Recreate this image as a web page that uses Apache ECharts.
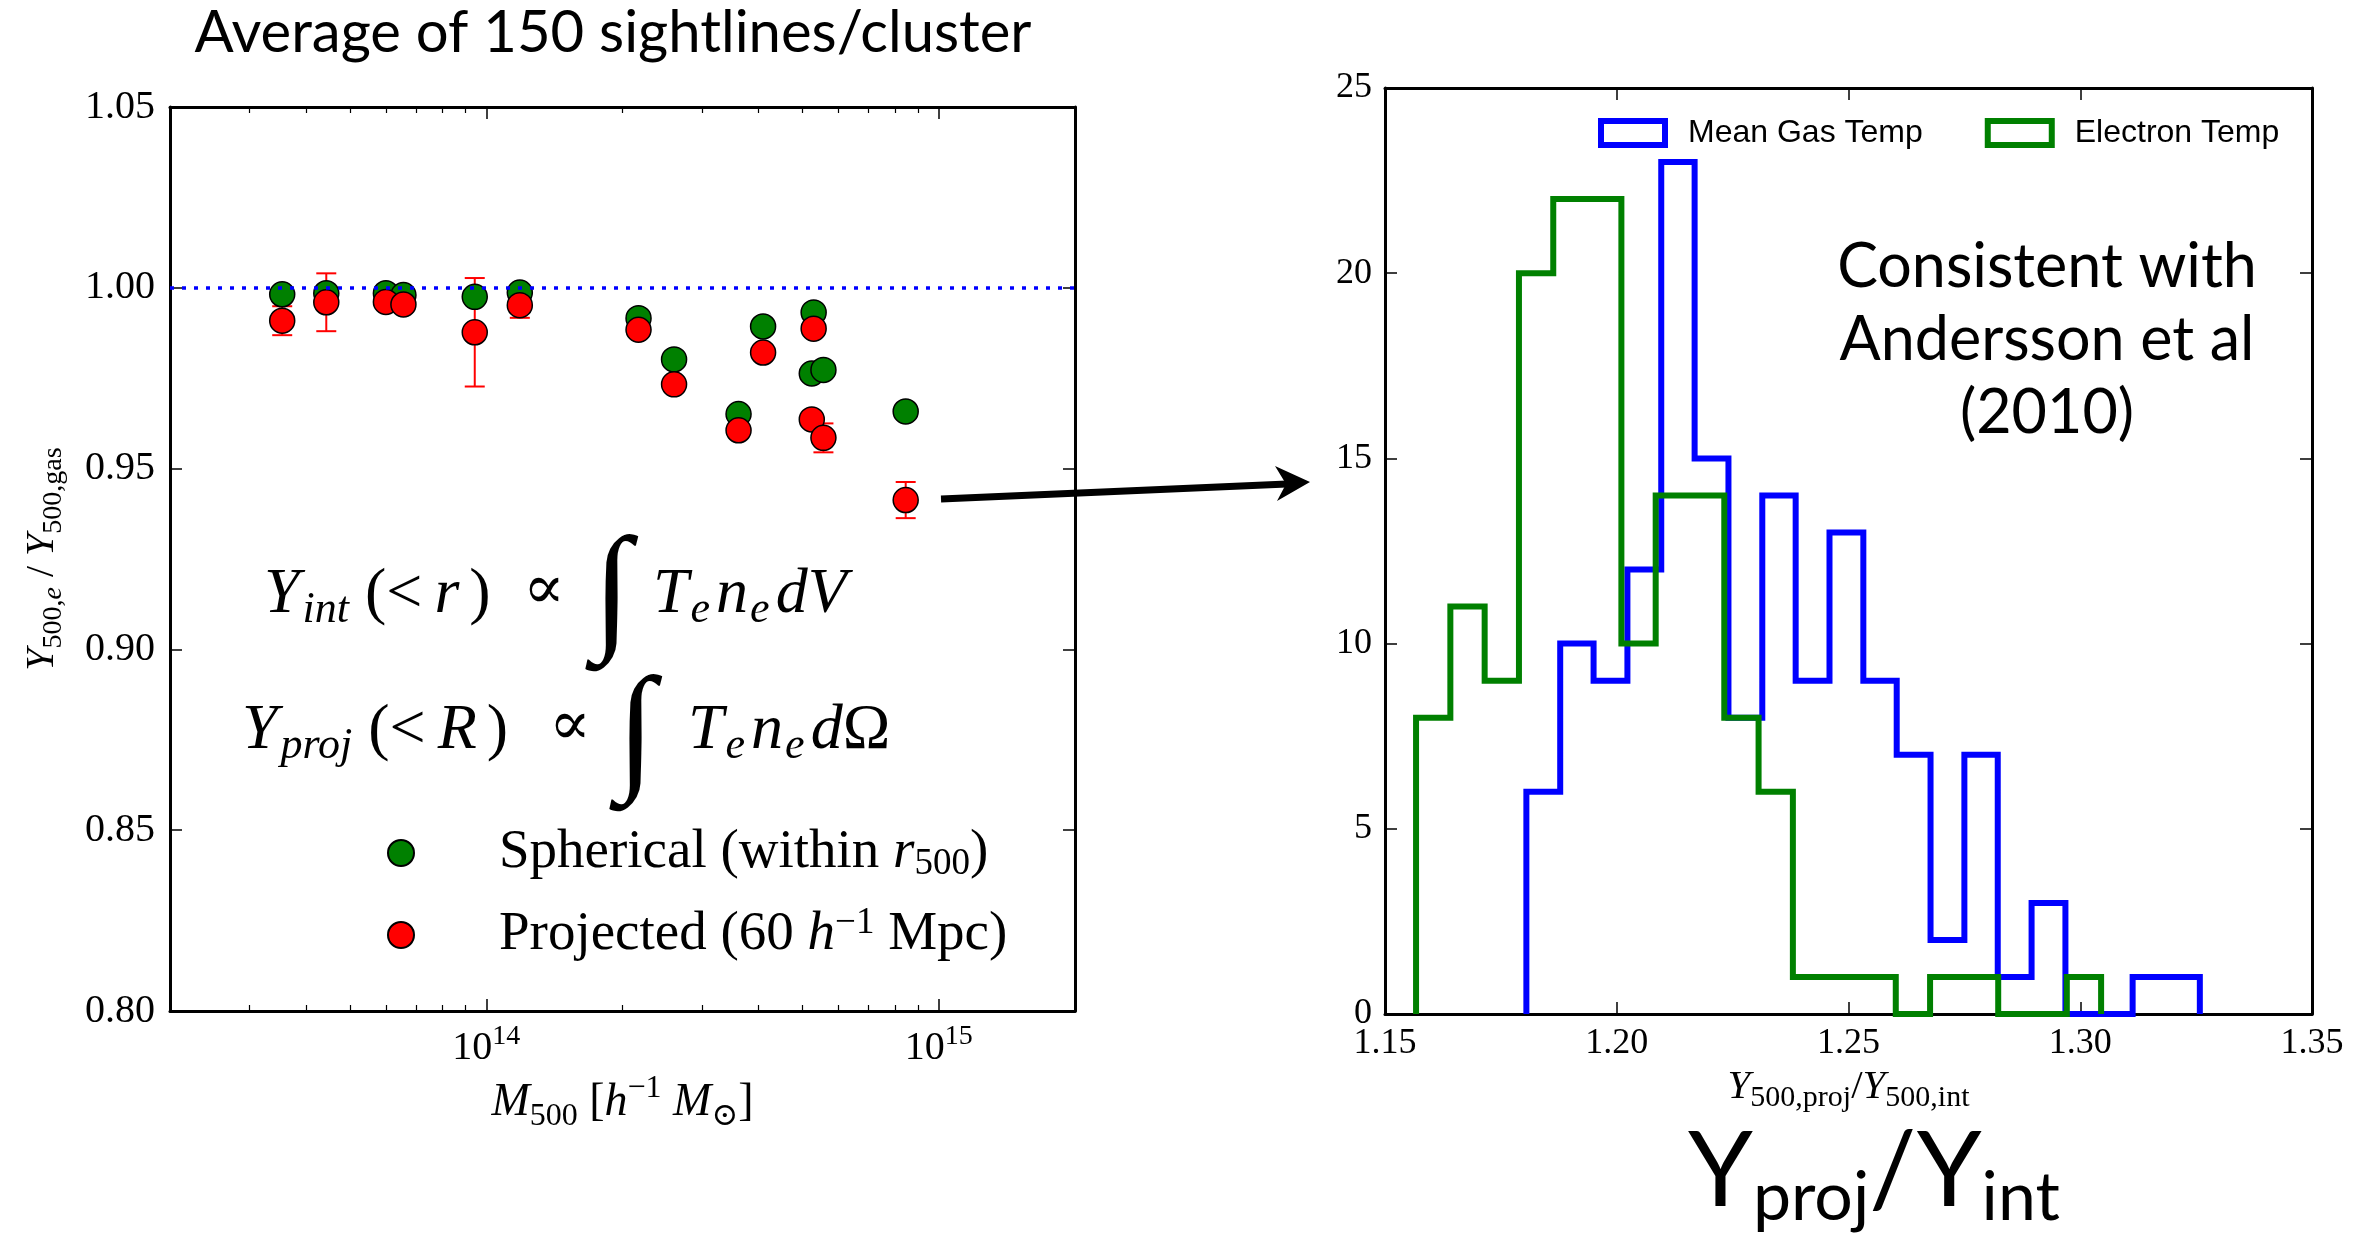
<!DOCTYPE html>
<html>
<head>
<meta charset="utf-8">
<script src="https://cdn.jsdelivr.net/npm/echarts@6/dist/echarts.min.js"></script>
<style>
html, body { margin: 0; padding: 0; background: #fff; }
#main { width: 2369px; height: 1234px; }
</style>
</head>
<body>
<div id="main"></div>
<script>
// left panel: Y500,e / Y500,gas against cluster mass
var massValues = [3.54e13, 4.43e13, 6.0e13, 6.56e13, 9.43e13, 1.186e14, 2.17e14, 2.60e14, 3.61e14, 4.09e14, 5.29e14, 5.24e14, 5.56e14, 8.45e14];
var ySpherical = [0.9982, 0.9985, 0.9985, 0.9980, 0.9975, 0.9987, 0.9916, 0.9802, 0.9651, 0.9893, 0.9932, 0.9763, 0.9773, 0.9658];
var yProjected = [0.9909, 0.9960, 0.9961, 0.9954, 0.9877, 0.9952, 0.9884, 0.9733, 0.9606, 0.9821, 0.9887, 0.9636, 0.9585, 0.9413];
var yProjectedErr = [0.004, 0.008, 0.002, 0.002, 0.015, 0.0035, 0.002, 0.002, 0.002, 0.002, 0.002, 0.002, 0.004, 0.005];
var massMajorTicks = [1e14, 1e15];
var massMinorTicks = [3e13, 4e13, 5e13, 6e13, 7e13, 8e13, 9e13, 2e14, 3e14, 4e14, 5e14, 6e14, 7e14, 8e14, 9e14];

// right panel: histograms of Y500,proj / Y500,int
var binEdgesGas = [1.1805, 1.1878, 1.1950, 1.2023, 1.2096, 1.2168, 1.2241, 1.2314, 1.2386, 1.2459, 1.2532, 1.2604, 1.2677, 1.2750, 1.2822, 1.2895, 1.2968, 1.3040, 1.3113, 1.3186, 1.3258];
var countsGas = [6, 10, 9, 12, 23, 15, 8, 14, 9, 13, 9, 7, 2, 7, 1, 3, 0, 0, 1, 1];
var binEdgesElectron = [1.1567, 1.1641, 1.1715, 1.1789, 1.1863, 1.1937, 1.2010, 1.2084, 1.2158, 1.2232, 1.2306, 1.2380, 1.2454, 1.2528, 1.2602, 1.2676, 1.2749, 1.2823, 1.2897, 1.2971, 1.3045];
var countsElectron = [8, 11, 9, 20, 22, 22, 10, 14, 14, 8, 6, 1, 1, 1, 0, 1, 1, 0, 0, 1];

var serif = "'Liberation Serif', 'DejaVu Serif', serif";
var gill = "Lato, 'Open Sans', sans-serif";

function stepData(edges, counts) {
    var pts = [[edges[0], 0]];
    for (var i = 0; i < counts.length; i++) {
        pts.push([edges[i], counts[i]]);
    }
    pts.push([edges[edges.length - 1], 0]);
    return pts;
}

// rich styles for the two formulas drawn inside the left panel
var eqRich = {
    it: { fontFamily: serif, fontSize: 64, fontStyle: 'italic', lineHeight: 74, fill: '#000' },
    itw: { fontFamily: serif, fontSize: 64, fontStyle: 'italic', lineHeight: 74, fill: '#000', padding: [0, 4, 0, 6] },
    rm: { fontFamily: serif, fontSize: 64, lineHeight: 74, fill: '#000' },
    rmw: { fontFamily: serif, fontSize: 64, lineHeight: 74, fill: '#000', padding: [0, 6, 0, 6] },
    sub: { fontFamily: serif, fontSize: 44, fontStyle: 'italic', lineHeight: 44, verticalAlign: 'bottom', fill: '#000', padding: [0, 6, 0, 2] },
    subw: { fontFamily: serif, fontSize: 44, fontStyle: 'italic', lineHeight: 44, verticalAlign: 'bottom', fill: '#000', padding: [0, 10, 0, 3] }
};
function eqText(x, y, text, align, size) {
    return {
        type: 'text', x: x, y: y,
        style: {
            text: text, fill: '#000', fontFamily: serif, fontSize: size || 64,
            align: align || 'left', verticalAlign: 'middle',
            textAlign: align || 'left', textVerticalAlign: 'middle',
            rich: eqRich
        }
    };
}

var chart = echarts.init(document.getElementById('main'));

var spine = { show: true, onZero: false, lineStyle: { color: '#000', width: 3 } };
var tickMajor = { show: true, inside: true, length: 12, lineStyle: { color: '#000', width: 1.5 } };
var tickMinor = { show: true, inside: true, length: 6, lineStyle: { color: '#000', width: 1.2 } };

var option = {
    animation: false,
    backgroundColor: '#fff',
    grid: [
        { left: 170, top: 107, width: 905, height: 904 },
        { left: 1385, top: 88, width: 927, height: 926 }
    ],
    legend: [
        {
            data: ['Spherical', 'Projected'],
            orient: 'vertical',
            left: 387,
            top: 823,
            icon: 'circle',
            itemWidth: 26,
            itemHeight: 26,
            itemGap: 22,
            padding: 0,
            selectedMode: false,
            formatter: function (name) {
                return name === 'Spherical'
                    ? 'Spherical (within {i|r}{sub|500})'
                    : 'Projected (60 {i|h}{sup|\u22121} Mpc)';
            },
            textStyle: {
                fontFamily: serif, fontSize: 55, color: '#000', lineHeight: 60,
                padding: [0, 0, 0, 80],
                rich: {
                    i: { fontFamily: serif, fontSize: 55, fontStyle: 'italic', lineHeight: 60 },
                    sub: { fontFamily: serif, fontSize: 37, lineHeight: 37, verticalAlign: 'bottom' },
                    sup: { fontFamily: serif, fontSize: 37, lineHeight: 37, verticalAlign: 'top' }
                }
            }
        },
        {
            data: [
                { name: 'Mean Gas Temp', icon: 'rect', itemStyle: { color: 'rgba(0,0,0,0)', borderColor: '#0000ff', borderWidth: 6 } },
                { name: 'Electron Temp', icon: 'rect', itemStyle: { color: 'rgba(0,0,0,0)', borderColor: '#008000', borderWidth: 6 } }
            ],
            left: 1598,
            top: 117,
            itemWidth: 64,
            itemHeight: 24,
            itemGap: 62,
            padding: 0,
            selectedMode: false,
            textStyle: { fontFamily: "'Liberation Sans', Arial, sans-serif", fontSize: 32, color: '#000', padding: [0, 0, 0, 18] }
        }
    ],
    xAxis: [
        {
            gridIndex: 0, type: 'log', logBase: 10, min: 2e13, max: 2e15, position: 'bottom',
            axisLine: spine,
            axisTick: Object.assign({ customValues: massMajorTicks }, tickMajor),
            axisLabel: {
                customValues: massMajorTicks, margin: 12, color: '#000',
                formatter: function (v) { return '{b|10}{s|' + Math.round(Math.log10(v)) + '}'; },
                rich: {
                    b: { fontFamily: serif, fontSize: 40, lineHeight: 50, color: '#000' },
                    s: { fontFamily: serif, fontSize: 28, lineHeight: 28, verticalAlign: 'top', color: '#000' }
                }
            },
            splitLine: { show: false },
            name: '{i|M}{sub|500} {rm|[}{i|h}{sup|\u22121} {i|M}{sub|\u2299}{rm|]}',
            nameLocation: 'middle',
            nameGap: 57,
            nameTextStyle: {
                fontFamily: serif, fontSize: 46, color: '#000',
                rich: {
                    i: { fontFamily: serif, fontSize: 46, fontStyle: 'italic', lineHeight: 60 },
                    rm: { fontFamily: serif, fontSize: 46, lineHeight: 60 },
                    sub: { fontFamily: serif, fontSize: 32, lineHeight: 32, verticalAlign: 'bottom' },
                    sup: { fontFamily: serif, fontSize: 32, lineHeight: 32, verticalAlign: 'top' }
                }
            }
        },
        {
            gridIndex: 0, type: 'log', logBase: 10, min: 2e13, max: 2e15, position: 'bottom',
            axisLine: { show: false },
            axisTick: Object.assign({ customValues: massMinorTicks }, tickMinor),
            axisLabel: { show: false },
            splitLine: { show: false }
        },
        {
            gridIndex: 0, type: 'log', logBase: 10, min: 2e13, max: 2e15, position: 'top',
            axisLine: spine,
            axisTick: Object.assign({ customValues: massMajorTicks }, tickMajor),
            axisLabel: { show: false },
            splitLine: { show: false }
        },
        {
            gridIndex: 0, type: 'log', logBase: 10, min: 2e13, max: 2e15, position: 'top',
            axisLine: { show: false },
            axisTick: Object.assign({ customValues: massMinorTicks }, tickMinor),
            axisLabel: { show: false },
            splitLine: { show: false }
        },
        {
            gridIndex: 1, type: 'value', min: 1.15, max: 1.35, interval: 0.05, position: 'bottom',
            axisLine: spine,
            axisTick: tickMajor,
            axisLabel: {
                margin: 12, fontFamily: serif, fontSize: 36, color: '#000',
                formatter: function (v) { return v.toFixed(2); }
            },
            splitLine: { show: false },
            name: '{i|Y}{sub|500,proj}{rm|/}{i|Y}{sub|500,int}',
            nameLocation: 'middle',
            nameGap: 45,
            nameTextStyle: {
                fontFamily: serif, fontSize: 41, color: '#000',
                rich: {
                    i: { fontFamily: serif, fontSize: 41, fontStyle: 'italic', lineHeight: 52 },
                    rm: { fontFamily: serif, fontSize: 41, lineHeight: 52 },
                    sub: { fontFamily: serif, fontSize: 30, lineHeight: 30, verticalAlign: 'bottom' }
                }
            }
        },
        {
            gridIndex: 1, type: 'value', min: 1.15, max: 1.35, interval: 0.05, position: 'top',
            axisLine: spine,
            axisTick: tickMajor,
            axisLabel: { show: false },
            splitLine: { show: false }
        }
    ],
    yAxis: [
        {
            gridIndex: 0, type: 'value', min: 0.8, max: 1.05, interval: 0.05, position: 'left',
            axisLine: spine,
            axisTick: tickMajor,
            axisLabel: {
                margin: 15, fontFamily: serif, fontSize: 40, color: '#000',
                formatter: function (v) { return v.toFixed(2); }
            },
            splitLine: { show: false },
            name: '{i|Y}{sub|500,}{subi|e}{rm| / }{i|Y}{sub|500,gas}',
            nameLocation: 'middle',
            nameRotate: 90,
            nameGap: 102,
            nameTextStyle: {
                fontFamily: serif, fontSize: 40, color: '#000',
                rich: {
                    i: { fontFamily: serif, fontSize: 40, fontStyle: 'italic', lineHeight: 52 },
                    rm: { fontFamily: serif, fontSize: 40, lineHeight: 52 },
                    sub: { fontFamily: serif, fontSize: 28, lineHeight: 28, verticalAlign: 'bottom' },
                    subi: { fontFamily: serif, fontSize: 28, fontStyle: 'italic', lineHeight: 28, verticalAlign: 'bottom' }
                }
            }
        },
        {
            gridIndex: 0, type: 'value', min: 0.8, max: 1.05, interval: 0.05, position: 'right',
            axisLine: spine,
            axisTick: tickMajor,
            axisLabel: { show: false },
            splitLine: { show: false }
        },
        {
            gridIndex: 1, type: 'value', min: 0, max: 25, interval: 5, position: 'left',
            axisLine: spine,
            axisTick: tickMajor,
            axisLabel: { margin: 13, fontFamily: serif, fontSize: 36, color: '#000' },
            splitLine: { show: false }
        },
        {
            gridIndex: 1, type: 'value', min: 0, max: 25, interval: 5, position: 'right',
            axisLine: spine,
            axisTick: tickMajor,
            axisLabel: { show: false },
            splitLine: { show: false }
        }
    ],
    series: [
        {
            name: 'unity',
            type: 'line',
            xAxisIndex: 0,
            yAxisIndex: 0,
            data: [],
            z: 1,
            markLine: {
                silent: true,
                symbol: ['none', 'none'],
                label: { show: false },
                lineStyle: { color: '#0000ff', type: [4, 8], width: 3.5 },
                data: [{ yAxis: 1.0 }]
            }
        },
        {
            name: 'errors',
            type: 'custom',
            xAxisIndex: 0,
            yAxisIndex: 0,
            z: 1,
            silent: true,
            encode: { x: 0, y: [1, 2] },
            data: massValues.map(function (m, i) {
                return [m, yProjected[i] - yProjectedErr[i], yProjected[i] + yProjectedErr[i]];
            }),
            renderItem: function (params, api) {
                var lo = api.coord([api.value(0), api.value(1)]);
                var hi = api.coord([api.value(0), api.value(2)]);
                var cap = 10;
                var st = { stroke: '#ff0000', lineWidth: 2 };
                return {
                    type: 'group',
                    children: [
                        { type: 'line', shape: { x1: lo[0], y1: lo[1], x2: hi[0], y2: hi[1] }, style: st },
                        { type: 'line', shape: { x1: lo[0] - cap, y1: lo[1], x2: lo[0] + cap, y2: lo[1] }, style: st },
                        { type: 'line', shape: { x1: hi[0] - cap, y1: hi[1], x2: hi[0] + cap, y2: hi[1] }, style: st }
                    ]
                };
            }
        },
        {
            name: 'Spherical',
            type: 'scatter',
            xAxisIndex: 0,
            yAxisIndex: 0,
            symbolSize: 25,
            z: 3,
            itemStyle: { color: '#008000', borderColor: '#000', borderWidth: 1.5, opacity: 1 },
            data: massValues.map(function (m, i) { return [m, ySpherical[i]]; })
        },
        {
            name: 'Projected',
            type: 'scatter',
            xAxisIndex: 0,
            yAxisIndex: 0,
            symbolSize: 25,
            z: 4,
            itemStyle: { color: '#ff0000', borderColor: '#000', borderWidth: 1.5, opacity: 1 },
            data: massValues.map(function (m, i) { return [m, yProjected[i]]; })
        },
        {
            name: 'Mean Gas Temp',
            type: 'line',
            xAxisIndex: 4,
            yAxisIndex: 2,
            step: 'end',
            symbol: 'none',
            color: '#0000ff',
            lineStyle: { color: '#0000ff', width: 6, join: 'miter' },
            data: stepData(binEdgesGas, countsGas)
        },
        {
            name: 'Electron Temp',
            type: 'line',
            xAxisIndex: 4,
            yAxisIndex: 2,
            step: 'end',
            symbol: 'none',
            color: '#008000',
            lineStyle: { color: '#008000', width: 6, join: 'miter' },
            data: stepData(binEdgesElectron, countsElectron)
        }
    ],
    graphic: [
        {
            type: 'text', x: 613, y: 33,
            style: {
                text: 'Average of 150 sightlines/cluster',
                fontFamily: gill, fontSize: 58, fill: '#000',
                align: 'center', verticalAlign: 'middle', textAlign: 'center', textVerticalAlign: 'middle'
            }
        },
        {
            type: 'text', x: 2047, y: 340,
            style: {
                text: 'Consistent with\nAndersson et al\n(2010)',
                fontFamily: gill, fontSize: 61, lineHeight: 73, fill: '#000',
                align: 'center', verticalAlign: 'middle', textAlign: 'center', textVerticalAlign: 'middle'
            }
        },
        {
            type: 'text', x: 1688, y: 1172,
            style: {
                text: '{Y|Y}{s|proj}{Y|/Y}{s|int}',
                fill: '#000',
                verticalAlign: 'middle', textVerticalAlign: 'middle',
                rich: {
                    Y: { fontFamily: gill, fontSize: 104, lineHeight: 120, fill: '#000' },
                    s: { fontFamily: gill, fontSize: 68, lineHeight: 76, verticalAlign: 'bottom', fill: '#000' }
                }
            }
        },
        // Y_int(< r) ∝ ∫ T_e n_e dV
        eqText(264, 595, '{it|Y}{subw|int}{rmw|(<}{itw|r}{rmw|)}'),
        eqText(544, 592, '\u221d', 'center', 62),
        eqText(612, 597, '\u222b', 'center', 140),
        eqText(653, 595, '{it|T}{sub|e}{it|n}{sub|e}{it|dV}'),
        // Y_proj(< R) ∝ ∫ T_e n_e dΩ
        eqText(242, 731, '{it|Y}{subw|proj}{rmw|(<}{itw|R}{rmw|)}'),
        eqText(570, 728, '\u221d', 'center', 62),
        eqText(636, 737, '\u222b', 'center', 140),
        eqText(688, 731, '{it|T}{sub|e}{it|n}{sub|e}{it|d}{rm|\u03a9}'),
        {
            type: 'line', z: 100,
            shape: { x1: 941, y1: 499, x2: 1287, y2: 484 },
            style: { stroke: '#000', lineWidth: 7 }
        },
        {
            type: 'polygon', z: 100,
            shape: { points: [[1310, 482], [1275, 466], [1286, 484], [1277, 501]] },
            style: { fill: '#000' }
        }
    ]
};

chart.setOption(option);
</script>
</body>
</html>
